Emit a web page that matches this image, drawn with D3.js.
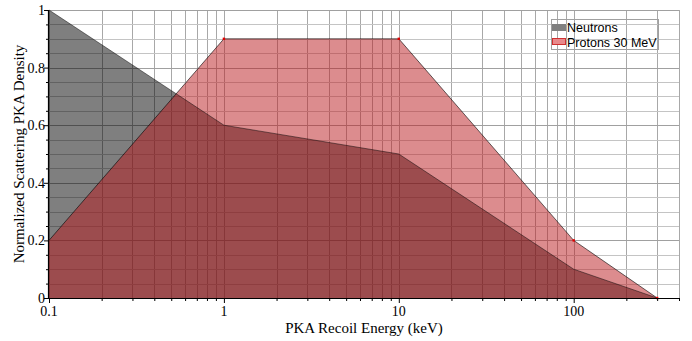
<!DOCTYPE html>
<html>
<head>
<meta charset="utf-8">
<script src="https://cdn.jsdelivr.net/npm/d3@7"></script>
<style>
  html, body { margin: 0; padding: 0; background: #fff; }
  svg { display: block; }
</style>
</head>
<body>
<svg id="chart" width="692" height="341"></svg>
<script>
// PKA recoil energy spectra (log energy axis)
const energies = [0.1, 1, 10, 100, 300];
const neutrons = [1, 0.6, 0.5, 0.1, 0];
const protons = [0.2, 0.9, 0.9, 0.2, 0];
const seriesNames = ["Neutrons", "Protons 30 MeV"];
const xTickLabels = ["0.1", "1", "10", "100"];
const yTickLabels = ["0", "0.2", "0.4", "0.6", "0.8", "1"];

const W = 692, H = 341;
const m = { left: 49, top: 10, right: 13, bottom: 43 };
const x0 = m.left, x1 = W - m.right, y0 = H - m.bottom, y1 = m.top;

const svg = d3.select("#chart");
const x = d3.scaleLog().domain([0.1, 400]).range([x0, x1]);
const y = d3.scaleLinear().domain([0, 1]).range([y0, y1]);

// grid: every minor decade step and every 0.05 on y
const xMinor = [];
for (let d = 0.1; d < 400; d *= 10) {
  for (let k = 1; k <= 9; k++) {
    const v = +(d * k).toPrecision(3);
    if (v >= 0.1 && v <= 400) xMinor.push(v);
  }
}
const yMinor = d3.range(0, 21).map(i => +(i * 0.05).toFixed(2));

const grid = svg.append("g").attr("shape-rendering", "crispEdges");
grid.selectAll("line.gx").data(xMinor).join("line")
  .attr("x1", d => Math.round(x(d)) + 0.5).attr("x2", d => Math.round(x(d)) + 0.5)
  .attr("y1", y1).attr("y2", y0)
  .attr("stroke", "#a8a8a8").attr("stroke-width", 1);
grid.selectAll("line.gy").data(yMinor).join("line")
  .attr("x1", x0).attr("x2", x1)
  .attr("y1", d => Math.round(y(d)) + 0.5).attr("y2", d => Math.round(y(d)) + 0.5)
  .attr("stroke", (d, i) => i % 4 === 0 ? "#a0a0a0" : "#c4c4c4").attr("stroke-width", 1);
// right border of the plotting area
grid.append("line")
  .attr("x1", x1 + 0.5).attr("x2", x1 + 0.5).attr("y1", y1).attr("y2", y0)
  .attr("stroke", "#a8a8a8");

const pts = vals => energies.map((e, i) => [e, vals[i]]);
const area = d3.area().x(d => x(d[0])).y0(y(0)).y1(d => y(d[1]));
const line = d3.line().x(d => x(d[0])).y(d => y(d[1]));

// neutron spectrum
svg.append("path").datum(pts(neutrons))
  .attr("d", area).attr("fill", "rgba(0,0,0,0.5)");
// proton spectrum drawn over it
svg.append("path").datum(pts(protons))
  .attr("d", area).attr("fill", "rgba(185,25,30,0.5)");

svg.append("path").datum(pts(neutrons))
  .attr("d", line).attr("fill", "none")
  .attr("stroke", "rgba(0,0,0,0.6)").attr("stroke-width", 0.8);
svg.append("path").datum(pts(protons))
  .attr("d", line).attr("fill", "none")
  .attr("stroke", "rgba(0,0,0,0.75)").attr("stroke-width", 0.8);

// vertex markers on the proton curve
svg.selectAll("rect.pm").data(pts(protons).slice(1)).join("rect")
  .attr("x", d => x(d[0]) - 1.2).attr("y", d => y(d[1]) - 1.2)
  .attr("width", 2.4).attr("height", 2.4).attr("fill", "#e00000");

// axes
const serif = "'Liberation Serif', 'DejaVu Serif', serif";
const xAxis = d3.axisBottom(x)
  .tickValues(xMinor)
  .tickSize(0)
  .tickFormat("");
const gx = svg.append("g").attr("transform", `translate(0,${y0})`).call(xAxis);
gx.select(".domain").remove();
gx.append("line").attr("x1", x0).attr("x2", x1).attr("y1", 0.5).attr("y2", 0.5)
  .attr("stroke", "#000").attr("stroke-width", 1.2);
gx.selectAll(".tick line")
  .attr("y2", d => [0.1, 1, 10, 100].includes(d) ? 5 : 3)
  .attr("stroke", "#000");
const majorX = [0.1, 1, 10, 100];
gx.selectAll("text.lbl").data(majorX).join("text")
  .attr("class", "lbl")
  .attr("x", d => x(d)).attr("y", 18)
  .attr("text-anchor", "middle")
  .attr("fill", "#000")
  .attr("font-family", serif).attr("font-size", 14)
  .text((d, i) => xTickLabels[i]);

const yAxis = d3.axisLeft(y).tickValues(yMinor).tickSize(0).tickFormat("");
const gy = svg.append("g").attr("transform", `translate(${x0},0)`).call(yAxis);
gy.select(".domain").remove();
gy.append("line").attr("x1", -0.5).attr("x2", -0.5).attr("y1", y1).attr("y2", y0 + 1)
  .attr("stroke", "#000").attr("stroke-width", 1.2);
gy.selectAll(".tick line")
  .attr("x2", (d, i) => i % 4 === 0 ? -5 : -3)
  .attr("stroke", "#000");
const majorY = [0, 0.2, 0.4, 0.6, 0.8, 1];
gy.selectAll("text.lbl").data(majorY).join("text")
  .attr("class", "lbl")
  .attr("x", -4).attr("y", d => y(d) + 5)
  .attr("text-anchor", "end")
  .attr("fill", "#000")
  .attr("font-family", serif).attr("font-size", 14)
  .text((d, i) => yTickLabels[i]);

// axis titles
svg.append("text")
  .attr("x", (x0 + x1) / 2).attr("y", 333)
  .attr("text-anchor", "middle")
  .attr("font-family", serif).attr("font-size", 15)
  .text("PKA Recoil Energy (keV)");
svg.append("text")
  .attr("transform", `translate(24,${(y0 + y1) / 2}) rotate(-90)`)
  .attr("text-anchor", "middle")
  .attr("font-family", serif).attr("font-size", 15)
  .text("Normalized Scattering PKA Density");

// legend
const lg = svg.append("g").attr("transform", "translate(551,19)");
lg.append("rect").attr("x", 0.5).attr("y", 0.5).attr("width", 107).attr("height", 30)
  .attr("fill", "none").attr("stroke", "#a0a0a0");
const swatches = [
  { fill: "#808080", stroke: "#808080" },
  { fill: "#e88a8c", stroke: "#d03030" }
];
seriesNames.forEach((name, i) => {
  lg.append("rect").attr("x", 1.5).attr("y", 5.5 + i * 14).attr("width", 13).attr("height", 6)
    .attr("fill", swatches[i].fill).attr("stroke", swatches[i].stroke).attr("stroke-width", 1);
  lg.append("text").attr("x", 16).attr("y", 13 + i * 14.5)
    .attr("font-family", "'Liberation Sans', Arial, sans-serif").attr("font-size", 12.5)
    .text(name);
});
</script>
</body>
</html>
